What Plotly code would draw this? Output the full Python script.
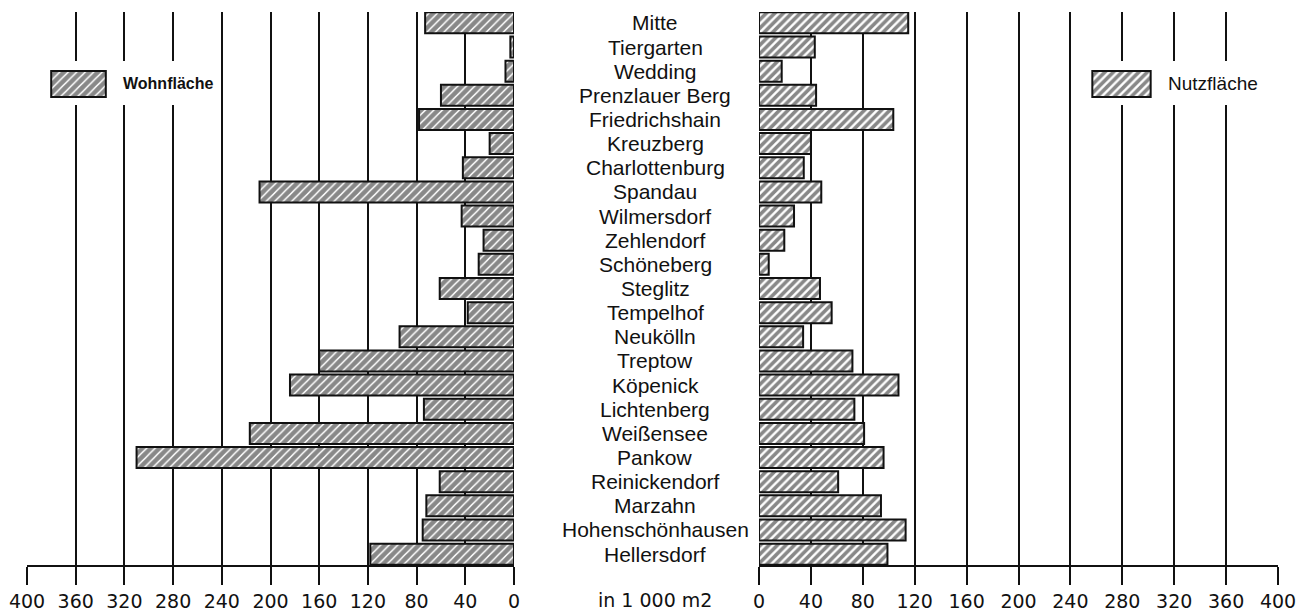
import plotly.graph_objects as go

# ---------------- data ----------------
districts = ["Mitte", "Tiergarten", "Wedding", "Prenzlauer Berg", "Friedrichshain",
             "Kreuzberg", "Charlottenburg", "Spandau", "Wilmersdorf", "Zehlendorf",
             "Schöneberg", "Steglitz", "Tempelhof", "Neukölln", "Treptow", "Köpenick",
             "Lichtenberg", "Weißensee", "Pankow", "Reinickendorf", "Marzahn",
             "Hohenschönhausen", "Hellersdorf"]
wohnflaeche = [73, 3, 7, 60, 78, 20, 42, 209, 43, 25, 29, 61, 38, 94, 160, 184,
               74, 217, 310, 61, 72, 75, 118]
nutzflaeche = [115, 43, 17.5, 44, 103.5, 40, 34.5, 48, 27, 19.5, 7.5, 47, 56, 34,
               72, 107.5, 73.5, 81, 96, 61, 94, 113, 99]
tick_values = list(range(0, 401, 40))
tick_labels = [str(v) for v in tick_values]
series_names = ["Wohnfläche", "Nutzfläche"]
unit_label = "in 1 000 m2"
swatch_value = [1]

# ---------------- geometry helpers (screen pixels; page has 8px body margin) ----
OFF = 8
W, H = 1307 - OFF, 616 - OFF
TOP, BOT = 12, 565
L0, L400 = 514, 27      # left axis: value 0 / 400 pixel
R0, R400 = 759, 1278    # right axis
Y_RANGE = [22.45, -0.45]


def px_x(px):
    return (px - OFF) / W


def px_y(py):
    return (BOT - py) / (BOT - TOP)


def left_val(px):
    return (L0 - px) / (L0 - L400) * 400


def right_val(px):
    return (px - R0) / (R400 - R0) * 400


def cat_idx(py):
    return Y_RANGE[1] + (py - TOP) / (BOT - TOP) * (Y_RANGE[0] - Y_RANGE[1])


INK = "#111111"
TICK_FONT = dict(family="DejaVu Sans", size=19, color=INK)
LABEL_FONT = dict(family="Liberation Sans", size=21, color=INK)

left_marker = dict(color="white", line=dict(color=INK, width=2),
                   pattern=dict(shape="/", fgcolor=INK, bgcolor="white",
                                size=6, solidity=0.75))
right_marker = dict(color="white", line=dict(color=INK, width=2),
                    pattern=dict(shape="/", fgcolor=INK, bgcolor="white",
                                 size=6, solidity=0.6))

fig = go.Figure()
fig.add_trace(go.Bar(x=wohnflaeche, y=districts, orientation="h", name=series_names[0],
                     xaxis="x", yaxis="y", width=0.87, marker=left_marker,
                     showlegend=False))
fig.add_trace(go.Bar(x=nutzflaeche, y=districts, orientation="h", name=series_names[1],
                     xaxis="x2", yaxis="y", width=0.87, marker=right_marker,
                     showlegend=False))
# legend swatches on their own small axes
fig.add_trace(go.Bar(x=swatch_value, y=[0.5], orientation="h", base=0, width=1,
                     xaxis="x3", yaxis="y3", marker=left_marker, showlegend=False,
                     hoverinfo="skip"))
fig.add_trace(go.Bar(x=swatch_value, y=[0.5], orientation="h", base=0, width=1,
                     xaxis="x4", yaxis="y4", marker=right_marker, showlegend=False,
                     hoverinfo="skip"))

axis_common = dict(tickvals=tick_values, ticktext=tick_labels, ticks="outside",
                   ticklen=18, tickwidth=2, tickcolor=INK, showline=True,
                   linewidth=2, linecolor=INK, showgrid=True, gridcolor=INK,
                   gridwidth=2, zeroline=False, tickfont=TICK_FONT, anchor="y",
                   fixedrange=True, automargin=False)

hidden = dict(visible=False, range=[-0.04, 1.04], fixedrange=True, automargin=False)

fig.update_layout(
    width=W, height=H,
    margin=dict(l=0, r=0, t=TOP - OFF, b=H - (BOT - OFF), autoexpand=False),
    paper_bgcolor="white", plot_bgcolor="white",
    barmode="overlay",
    xaxis=dict(domain=[px_x(L400), px_x(L0)], range=[400, 0], **axis_common),
    xaxis2=dict(domain=[px_x(R0), px_x(R400)], range=[0, 400], **axis_common),
    yaxis=dict(domain=[0, 1], type="category", range=Y_RANGE, visible=False,
               fixedrange=True, automargin=False),
    xaxis3=dict(domain=[px_x(49), px_x(108)], anchor="y3", **hidden),
    yaxis3=dict(domain=[px_y(98), px_y(70)], anchor="x3", **hidden),
    xaxis4=dict(domain=[px_x(1090), px_x(1153)], anchor="y4", **hidden),
    yaxis4=dict(domain=[px_y(98), px_y(70)], anchor="x4", **hidden),
)

# white masks behind legends (over gridlines, under traces)
fig.add_shape(type="rect", xref="x", yref="y", layer="between",
              x0=left_val(38), x1=left_val(217), y0=cat_idx(61), y1=cat_idx(105),
              fillcolor="white", line=dict(width=0))
fig.add_shape(type="rect", xref="x2", yref="y", layer="between",
              x0=right_val(1078), x1=right_val(1268), y0=cat_idx(61), y1=cat_idx(105),
              fillcolor="white", line=dict(width=0))

annotations = []
for d in districts:
    annotations.append(dict(x=px_x(655), xref="paper", y=d, yref="y", text=d,
                            showarrow=False, xanchor="center", yanchor="middle",
                            font=LABEL_FONT))
annotations.append(dict(x=px_x(655), xref="paper", y=px_y(600), yref="paper",
                        text=unit_label, showarrow=False, xanchor="center",
                        yanchor="middle", font=TICK_FONT))
annotations.append(dict(x=px_x(121), xref="paper", y=px_y(84), yref="paper",
                        text="<b>" + series_names[0] + "</b>", showarrow=False,
                        xanchor="left", yanchor="middle",
                        font=dict(family="Liberation Sans", size=16, color=INK)))
annotations.append(dict(x=px_x(1166), xref="paper", y=px_y(84), yref="paper",
                        text=series_names[1], showarrow=False,
                        xanchor="left", yanchor="middle",
                        font=dict(family="Liberation Sans", size=19, color=INK)))
fig.update_layout(annotations=annotations)

fig.write_html("out.html")
